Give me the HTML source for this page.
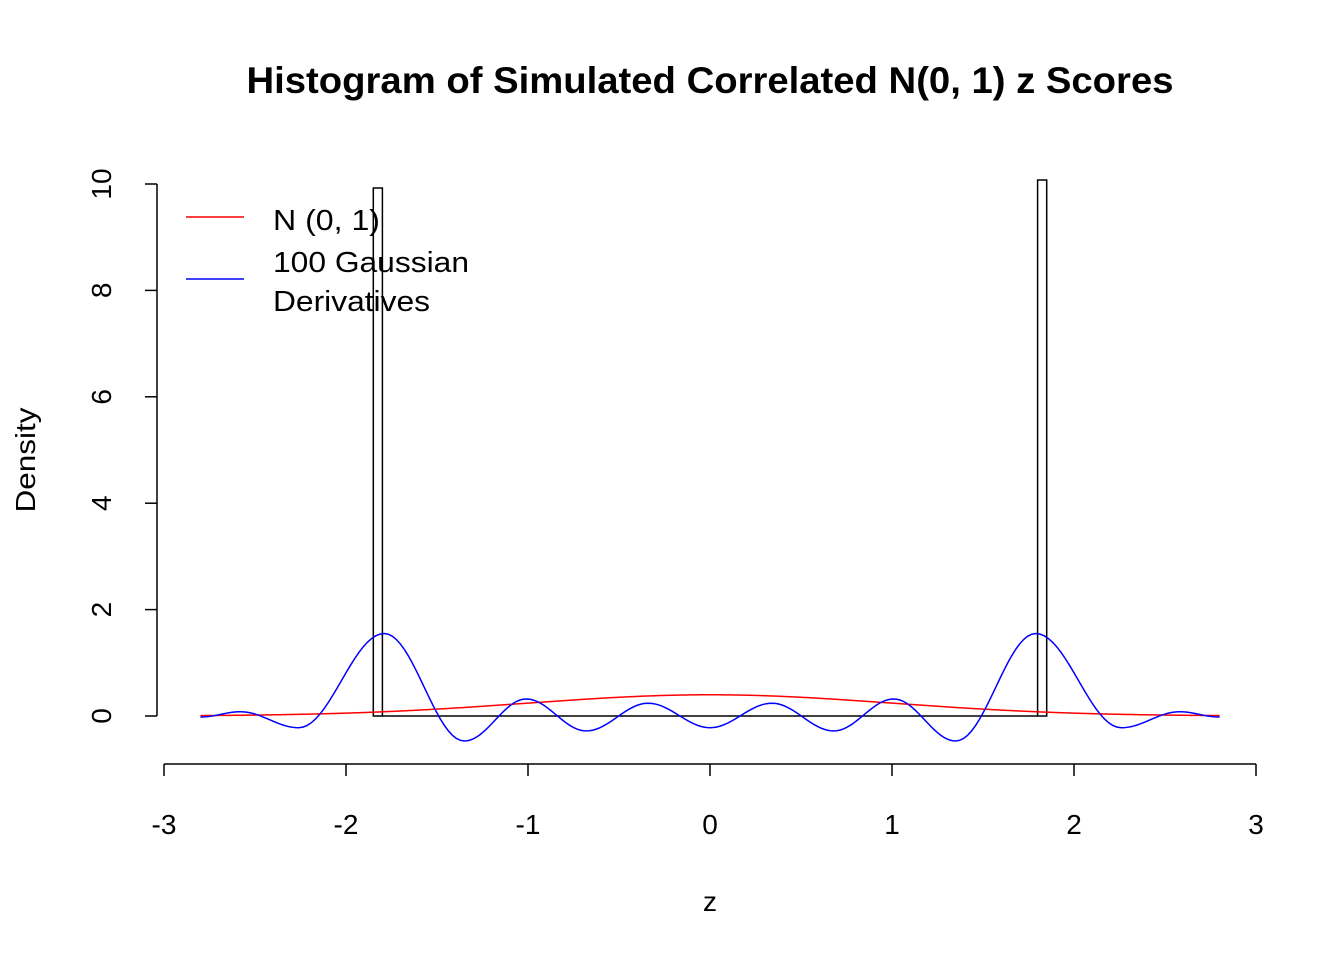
<!DOCTYPE html>
<html><head><meta charset="utf-8"><style>
html,body{margin:0;padding:0;background:#fff;}
svg{display:block;font-family:"Liberation Sans",Arial,sans-serif;}
</style></head><body>
<svg id="s" width="1344" height="960" viewBox="0 0 1344 960" xmlns="http://www.w3.org/2000/svg">
<rect width="1344" height="960" fill="#fff"/>
<text x="710" y="93" text-anchor="middle" font-size="37" font-weight="bold" textLength="927" lengthAdjust="spacingAndGlyphs">Histogram of Simulated Correlated N(0, 1) z Scores</text>
<g stroke="#000" stroke-width="1.5" fill="none">
<line x1="164" y1="764" x2="1256" y2="764"/>
<line x1="164" y1="764" x2="164" y2="776"/>
<line x1="346" y1="764" x2="346" y2="776"/>
<line x1="528" y1="764" x2="528" y2="776"/>
<line x1="710" y1="764" x2="710" y2="776"/>
<line x1="892" y1="764" x2="892" y2="776"/>
<line x1="1074" y1="764" x2="1074" y2="776"/>
<line x1="1256" y1="764" x2="1256" y2="776"/>
<line x1="157" y1="184" x2="157" y2="716"/>
<line x1="145" y1="716" x2="157" y2="716"/>
<line x1="145" y1="609.6" x2="157" y2="609.6"/>
<line x1="145" y1="503.2" x2="157" y2="503.2"/>
<line x1="145" y1="396.8" x2="157" y2="396.8"/>
<line x1="145" y1="290.4" x2="157" y2="290.4"/>
<line x1="145" y1="184" x2="157" y2="184"/>
</g>
<g font-size="28" text-anchor="middle">
<text x="164" y="834">-3</text><text x="346" y="834">-2</text><text x="528" y="834">-1</text>
<text x="710" y="834">0</text><text x="892" y="834">1</text><text x="1074" y="834">2</text><text x="1256" y="834">3</text>
<text x="710" y="911">z</text>
<text transform="translate(111,716) rotate(-90)">0</text>
<text transform="translate(111,609.6) rotate(-90)">2</text>
<text transform="translate(111,503.2) rotate(-90)">4</text>
<text transform="translate(111,396.8) rotate(-90)">6</text>
<text transform="translate(111,290.4) rotate(-90)">8</text>
<text transform="translate(111,184) rotate(-90)">10</text>
<text transform="translate(35,460) rotate(-90)" textLength="105" lengthAdjust="spacingAndGlyphs">Density</text>
</g>
<g stroke="#000" stroke-width="1.5" fill="none">
<rect x="373.3" y="188" width="9.1" height="528"/>
<rect x="1037.6" y="180" width="9.1" height="536"/>
<line x1="382.4" y1="716" x2="1037.6" y2="716"/>
</g>
<path id="red" fill="none" stroke="#f00" stroke-width="1.5"/>
<path id="blue" fill="none" stroke="#00f" stroke-width="1.5"/>
<line x1="186" y1="217" x2="244" y2="217" stroke="#f00" stroke-width="1.5"/>
<line x1="186" y1="279" x2="244" y2="279" stroke="#00f" stroke-width="1.5"/>
<g font-size="29">
<text x="273" y="230" textLength="107" lengthAdjust="spacingAndGlyphs">N (0, 1)</text>
<text x="273" y="272" textLength="196" lengthAdjust="spacingAndGlyphs">100 Gaussian</text>
<text x="273" y="311" textLength="157" lengthAdjust="spacingAndGlyphs">Derivatives</text>
</g>
</svg>
<script>
var X=function(z){return 710+182*z;},Y=function(d){return 716-53.2*d;};
var p="";for(var i=0;i<=560;i++){var z=-2.8+i*0.01;var d=Math.exp(-z*z/2)/Math.sqrt(2*Math.PI);p+=(i?"L":"M")+X(z).toFixed(2)+","+Y(d).toFixed(2);}
document.getElementById("red").setAttribute("d",p);
var k=[[-2.8,-0.02],[-2.58,0.08],[-2.26,-0.22],[-1.79,1.55],[-1.35,-0.47],[-1.01,0.32],[-0.68,-0.28],[-0.34,0.24],[0,-0.22]];
var n=k.length;for(var j=n-2;j>=0;j--)k.push([-k[j][0],k[j][1]]);
var b="";for(var j=0;j<k.length-1;j++){var a=k[j],c=k[j+1];for(var t=0;t<=20;t++){var s=t/20;var z=a[0]+(c[0]-a[0])*s;var d=a[1]+(c[1]-a[1])*(1-Math.cos(Math.PI*s))/2;b+=(b?"L":"M")+X(z).toFixed(2)+","+Y(d).toFixed(2);}}
document.getElementById("blue").setAttribute("d",b);
</script>
</body></html>
